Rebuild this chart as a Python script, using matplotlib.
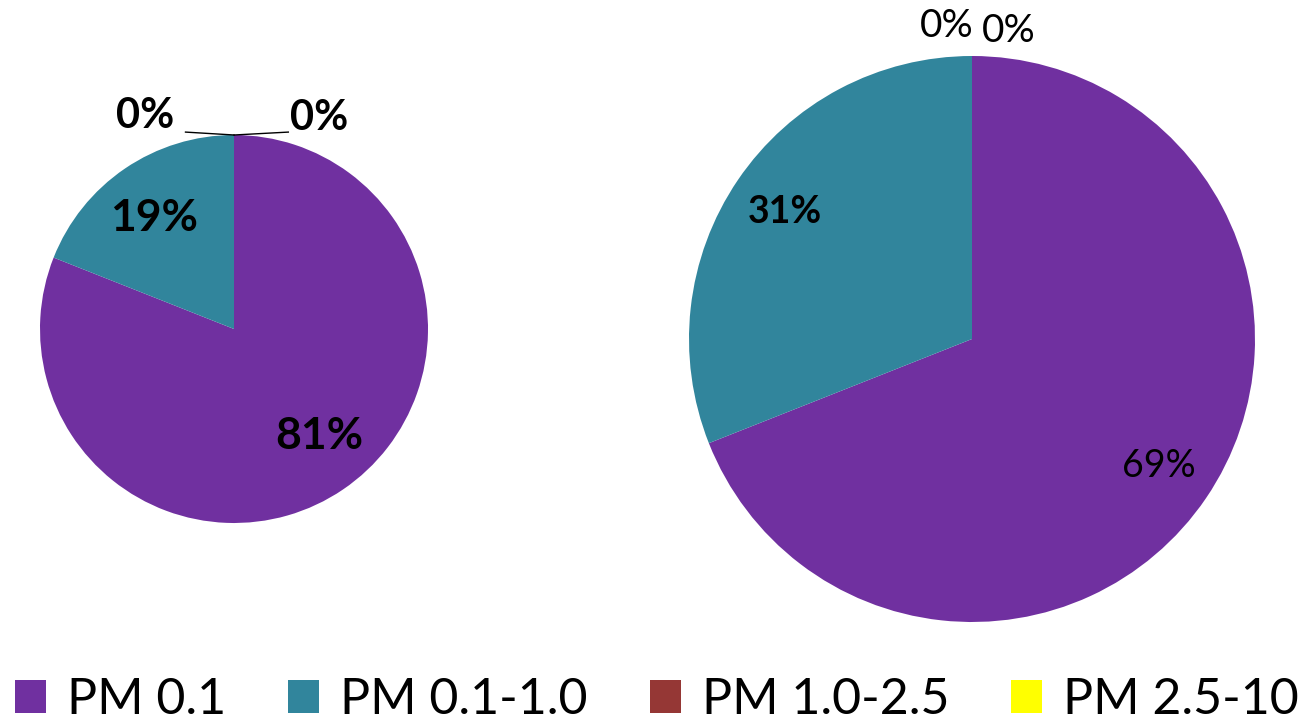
import matplotlib
matplotlib.use("Agg")
import matplotlib.pyplot as plt

# data
categories = ["PM 0.1", "PM 0.1-1.0", "PM 1.0-2.5", "PM 2.5-10"]
left_vals = [81, 19, 0, 0]
right_vals = [69, 31, 0, 0]
colors = ["#7030A0", "#31859C", "#953735", "#FFFF00"]

plt.rcParams["font.family"] = ["Lato", "DejaVu Sans"]

W, H = 1311, 725
fig = plt.figure(figsize=(W / 100, H / 100), dpi=100)


def pie_axes(cx, cy, r):
    return fig.add_axes([(cx - r) / W, (H - cy - r) / H, 2 * r / W, 2 * r / H])


ax1 = pie_axes(234, 329, 194)
ax2 = pie_axes(972, 339, 283)

# left pie
wedges1, _, pct1 = ax1.pie(left_vals, colors=colors, startangle=90, counterclock=False,
                           autopct="%1.0f%%", pctdistance=0.7,
                           wedgeprops=dict(linewidth=0))
for t in pct1[:2]:
    t.set_fontsize(32)
    t.set_fontweight("bold")
pct1[0].set_position((0.44, -0.55))
pct1[1].set_position((-0.41, 0.57))
zero_pos1 = [(-0.46, 1.10), (0.44, 1.09)]
line_end1 = [(-0.25, 1.015), (0.28, 1.015)]
for t, pos, end in zip(pct1[2:], zero_pos1, line_end1):
    t.set_position(pos)
    t.set_fontsize(30)
    t.set_fontweight("bold")
    ax1.plot([0, end[0]], [1.0, end[1]], color="black", lw=1, clip_on=False)

# right pie
wedges2, _, pct2 = ax2.pie(right_vals, colors=colors, startangle=90, counterclock=False,
                           autopct="%1.0f%%", pctdistance=0.8,
                           wedgeprops=dict(linewidth=0))
pct2[0].set_fontsize(27)
pct2[1].set_fontsize(27)
pct2[1].set_fontweight("bold")
zero_pos2 = [(-0.09, 1.105), (0.13, 1.09)]
for t, pos in zip(pct2[2:], zero_pos2):
    t.set_position(pos)
    t.set_fontsize(28)

for ax in (ax1, ax2):
    ax.set_xlim(-1, 1)
    ax.set_ylim(-1, 1)
    ax.set_aspect("auto")

fig.legend(wedges1, categories, loc="lower left", bbox_to_anchor=(0.004, -0.011),
           ncol=4, frameon=False, fontsize=36,
           handlelength=0.62, handleheight=0.62, handletextpad=0.42,
           columnspacing=1.24, borderaxespad=0, borderpad=0.2)

fig.savefig("out.png", dpi=100)
